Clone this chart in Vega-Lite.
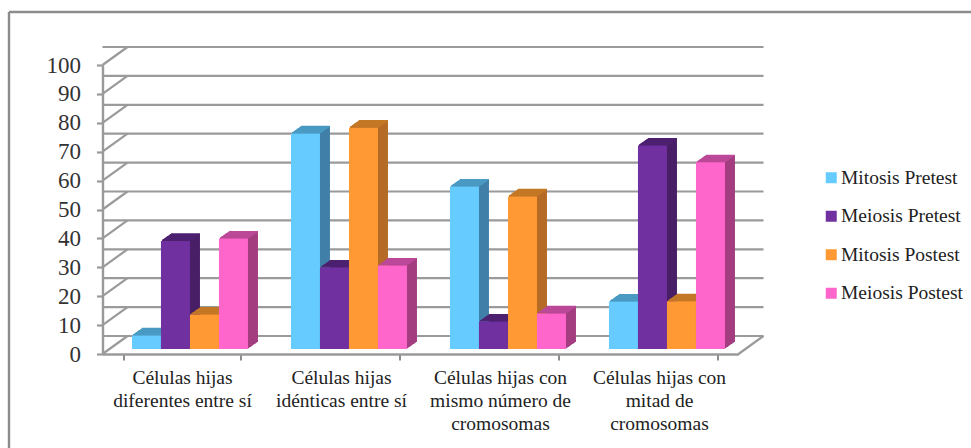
{"$schema":"https://vega.github.io/schema/vega-lite/v6.json","width":636,"height":289,"autosize":{"type":"none"},"padding":{"left":102.5,"top":65,"right":232.5,"bottom":94},"background":"white","view":{"stroke":null},
"datasets":{"bars":[
{"group":"Células hijas|diferentes entre sí","series":"Mitosis Pretest","value":4.7},
{"group":"Células hijas|diferentes entre sí","series":"Meiosis Pretest","value":37.4},
{"group":"Células hijas|diferentes entre sí","series":"Mitosis Postest","value":11.9},
{"group":"Células hijas|diferentes entre sí","series":"Meiosis Postest","value":38.2},
{"group":"Células hijas|idénticas entre sí","series":"Mitosis Pretest","value":74.6},
{"group":"Células hijas|idénticas entre sí","series":"Meiosis Pretest","value":28.2},
{"group":"Células hijas|idénticas entre sí","series":"Mitosis Postest","value":76.6},
{"group":"Células hijas|idénticas entre sí","series":"Meiosis Postest","value":28.9},
{"group":"Células hijas con|mismo número de|cromosomas","series":"Mitosis Pretest","value":56.2},
{"group":"Células hijas con|mismo número de|cromosomas","series":"Meiosis Pretest","value":9.5},
{"group":"Células hijas con|mismo número de|cromosomas","series":"Mitosis Postest","value":52.8},
{"group":"Células hijas con|mismo número de|cromosomas","series":"Meiosis Postest","value":12.3},
{"group":"Células hijas con|mitad de|cromosomas","series":"Mitosis Pretest","value":16.4},
{"group":"Células hijas con|mitad de|cromosomas","series":"Meiosis Pretest","value":70.4},
{"group":"Células hijas con|mitad de|cromosomas","series":"Mitosis Postest","value":16.5},
{"group":"Células hijas con|mitad de|cromosomas","series":"Meiosis Postest","value":64.6}],
"ticks":[{"v":0},{"v":10},{"v":20},{"v":30},{"v":40},{"v":50},{"v":60},{"v":70},{"v":80},{"v":90},{"v":100}]},
"resolve":{"scale":{"x":"independent"},"axis":{"y":"independent"}},
"layer":[
{"data":{"name":"ticks"},"mark":{"type":"rule","color":"#9a9a9a","strokeWidth":2.2,"xOffset":25,"x2Offset":25,"yOffset":-18},"encoding":{"y":{"field":"v","type":"quantitative","scale":{"domain":[0,100]},"axis":null}}},
{"data":{"name":"ticks"},"mark":{"type":"rule","color":"#9a9a9a","strokeWidth":2.2,"y2Offset":-18},"encoding":{"x":{"datum":0,"type":"quantitative","scale":{"domain":[0,1],"range":[0,25]},"axis":null},"x2":{"datum":1},"y":{"field":"v","type":"quantitative","axis":null},"y2":{"field":"v"}}},
{"data":{"name":"ticks"},"transform":[{"filter":"datum.v==0"}],"mark":{"type":"rule","color":"#9a9a9a","strokeWidth":2.2,"y2Offset":-18},"encoding":{"x":{"datum":0,"type":"quantitative","scale":{"domain":[0,1],"range":[636,661]},"axis":null},"x2":{"datum":1},"y":{"field":"v","type":"quantitative","axis":null},"y2":{"field":"v"}}},
{"data":{"name":"ticks"},"transform":[{"filter":"datum.v==100"}],"mark":{"type":"rule","color":"#8c8c8c","strokeWidth":2.4,"yOffset":-53},"encoding":{"x":{"datum":0,"type":"quantitative","scale":{"domain":[0,1],"range":[-93.5,868.5]},"axis":null},"x2":{"datum":1},"y":{"field":"v","type":"quantitative","axis":null}}},
{"data":{"name":"ticks"},"transform":[{"filter":"datum.v==100"}],"mark":{"type":"rule","color":"#8c8c8c","strokeWidth":2.4,"yOffset":-53,"y2Offset":94},"encoding":{"x":{"datum":0,"type":"quantitative","scale":{"domain":[0,1],"range":[-93.5,0]},"axis":null},"y":{"field":"v","type":"quantitative","axis":null},"y2":{"datum":0}}},
{"data":{"name":"bars"},"mark":{"type":"bar","opacity":0},"encoding":{"x":{"field":"group","type":"nominal","sort":null,"scale":{"paddingInner":0.27,"paddingOuter":0.135,"range":[0,636]},"axis":{"title":null,"tickBand":"extent","labelAngle":0,"labelExpr":"split(datum.label,'|')","labelFont":"Liberation Serif","labelFontSize":19.5,"labelColor":"#222222","labelLineHeight":23,"labelPadding":8,"labelBaseline":"top","labelLimit":300,"tickSize":6,"tickColor":"#8c8c8c","tickWidth":2,"domainColor":"#9a9a9a","domainWidth":2.4}},"y":{"field":"value","type":"quantitative","stack":null,"axis":{"title":null,"values":[0,10,20,30,40,50,60,70,80,90,100],"grid":false,"labelFont":"Liberation Serif","labelFontSize":23,"labelColor":"#333333","labelPadding":16,"tickSize":6,"tickColor":"#9a9a9a","tickWidth":2.2,"domainColor":"#9a9a9a","domainWidth":2.4}}}},
{"data":{"name":"bars"},"resolve":{"scale":{"x":"independent"}},"encoding":{"y":{"field":"value","type":"quantitative","stack":null,"axis":null},"y2":{"datum":0},"xOffset":{"field":"series","sort":null,"scale":{"range":[0,116]}},"fill":{"field":"series","type":"nominal","sort":null,"scale":{"range":["#4080A8","#481E66","#B56B25","#A33D80"]},"legend":null}},"layer":[
{"mark":{"type":"bar","yOffset":-5.7,"y2Offset":-5.7},"encoding":{"x":{"field":"group","sort":null,"axis":null,"scale":{"range":[9,645],"paddingInner":0.27,"paddingOuter":0.135}}}},
{"mark":{"type":"bar","yOffset":-6.4,"y2Offset":-6.4},"encoding":{"x":{"field":"group","sort":null,"axis":null,"scale":{"range":[10,646],"paddingInner":0.27,"paddingOuter":0.135}}}},
{"mark":{"type":"bar","yOffset":-7.1,"y2Offset":-7.1},"encoding":{"x":{"field":"group","sort":null,"axis":null,"scale":{"range":[11,647],"paddingInner":0.27,"paddingOuter":0.135}}}},
{"mark":{"type":"bar","yOffset":-7.8,"y2Offset":-7.8},"encoding":{"x":{"field":"group","sort":null,"axis":null,"scale":{"range":[12,648],"paddingInner":0.27,"paddingOuter":0.135}}}},
{"mark":{"type":"bar","yOffset":-8.5,"y2Offset":-8.5},"encoding":{"x":{"field":"group","sort":null,"axis":null,"scale":{"range":[13,649],"paddingInner":0.27,"paddingOuter":0.135}}}},
{"mark":{"type":"bar","yOffset":-9.2,"y2Offset":-9.2},"encoding":{"x":{"field":"group","sort":null,"axis":null,"scale":{"range":[14,650],"paddingInner":0.27,"paddingOuter":0.135}}}},
{"mark":{"type":"bar","yOffset":-9.9,"y2Offset":-9.9},"encoding":{"x":{"field":"group","sort":null,"axis":null,"scale":{"range":[15,651],"paddingInner":0.27,"paddingOuter":0.135}}}},
{"mark":{"type":"bar","yOffset":-10.6,"y2Offset":-10.6},"encoding":{"x":{"field":"group","sort":null,"axis":null,"scale":{"range":[16,652],"paddingInner":0.27,"paddingOuter":0.135}}}},
{"mark":{"type":"bar","yOffset":-11.3,"y2Offset":-11.3},"encoding":{"x":{"field":"group","sort":null,"axis":null,"scale":{"range":[17,653],"paddingInner":0.27,"paddingOuter":0.135}}}},
{"mark":{"type":"bar","yOffset":-12,"y2Offset":-12},"encoding":{"x":{"field":"group","sort":null,"axis":null,"scale":{"range":[18,654],"paddingInner":0.27,"paddingOuter":0.135}}}}
]},
{"data":{"name":"bars"},"resolve":{"scale":{"x":"independent"}},"encoding":{"y":{"field":"value","type":"quantitative","stack":null,"axis":null},"y2":{"field":"value"},"xOffset":{"field":"series","sort":null,"scale":{"range":[0,116]}},"stroke":{"field":"series","type":"nominal","sort":null,"scale":{"range":["#4A9AC3","#4D2170","#C47826","#BB4898"]},"legend":null}},"layer":[
{"mark":{"type":"bar","strokeWidth":1.2,"yOffset":-5.7,"y2Offset":-5.7},"encoding":{"x":{"field":"group","sort":null,"axis":null,"scale":{"range":[9,645],"paddingInner":0.27,"paddingOuter":0.135}}}},
{"mark":{"type":"bar","strokeWidth":1.2,"yOffset":-6.4,"y2Offset":-6.4},"encoding":{"x":{"field":"group","sort":null,"axis":null,"scale":{"range":[10,646],"paddingInner":0.27,"paddingOuter":0.135}}}},
{"mark":{"type":"bar","strokeWidth":1.2,"yOffset":-7.1,"y2Offset":-7.1},"encoding":{"x":{"field":"group","sort":null,"axis":null,"scale":{"range":[11,647],"paddingInner":0.27,"paddingOuter":0.135}}}},
{"mark":{"type":"bar","strokeWidth":1.2,"yOffset":-7.8,"y2Offset":-7.8},"encoding":{"x":{"field":"group","sort":null,"axis":null,"scale":{"range":[12,648],"paddingInner":0.27,"paddingOuter":0.135}}}},
{"mark":{"type":"bar","strokeWidth":1.2,"yOffset":-8.5,"y2Offset":-8.5},"encoding":{"x":{"field":"group","sort":null,"axis":null,"scale":{"range":[13,649],"paddingInner":0.27,"paddingOuter":0.135}}}},
{"mark":{"type":"bar","strokeWidth":1.2,"yOffset":-9.2,"y2Offset":-9.2},"encoding":{"x":{"field":"group","sort":null,"axis":null,"scale":{"range":[14,650],"paddingInner":0.27,"paddingOuter":0.135}}}},
{"mark":{"type":"bar","strokeWidth":1.2,"yOffset":-9.9,"y2Offset":-9.9},"encoding":{"x":{"field":"group","sort":null,"axis":null,"scale":{"range":[15,651],"paddingInner":0.27,"paddingOuter":0.135}}}},
{"mark":{"type":"bar","strokeWidth":1.2,"yOffset":-10.6,"y2Offset":-10.6},"encoding":{"x":{"field":"group","sort":null,"axis":null,"scale":{"range":[16,652],"paddingInner":0.27,"paddingOuter":0.135}}}},
{"mark":{"type":"bar","strokeWidth":1.2,"yOffset":-11.3,"y2Offset":-11.3},"encoding":{"x":{"field":"group","sort":null,"axis":null,"scale":{"range":[17,653],"paddingInner":0.27,"paddingOuter":0.135}}}},
{"mark":{"type":"bar","strokeWidth":1.2,"yOffset":-12,"y2Offset":-12},"encoding":{"x":{"field":"group","sort":null,"axis":null,"scale":{"range":[18,654],"paddingInner":0.27,"paddingOuter":0.135}}}}
]},
{"data":{"name":"bars"},"mark":{"type":"bar","yOffset":-5,"y2Offset":-5},"encoding":{"x":{"field":"group","sort":null,"axis":null,"scale":{"range":[8,644],"paddingInner":0.27,"paddingOuter":0.135}},"xOffset":{"field":"series","sort":null,"scale":{"range":[0,116]}},"y":{"field":"value","type":"quantitative","stack":null,"axis":null},"y2":{"datum":0},"color":{"field":"series","type":"nominal","sort":null,"scale":{"domain":["Mitosis Pretest","Meiosis Pretest","Mitosis Postest","Meiosis Postest"],"range":["#66CCFF","#7030A0","#FF9933","#FF66CC"]},"legend":{"title":null,"orient":"none","legendX":719,"legendY":103,"symbolType":"square","symbolSize":121,"symbolStrokeWidth":0,"labelFont":"Liberation Serif","labelFontSize":19.5,"labelColor":"#222222","labelOffset":0,"rowPadding":17.5,"labelLimit":200}}}}
]}
